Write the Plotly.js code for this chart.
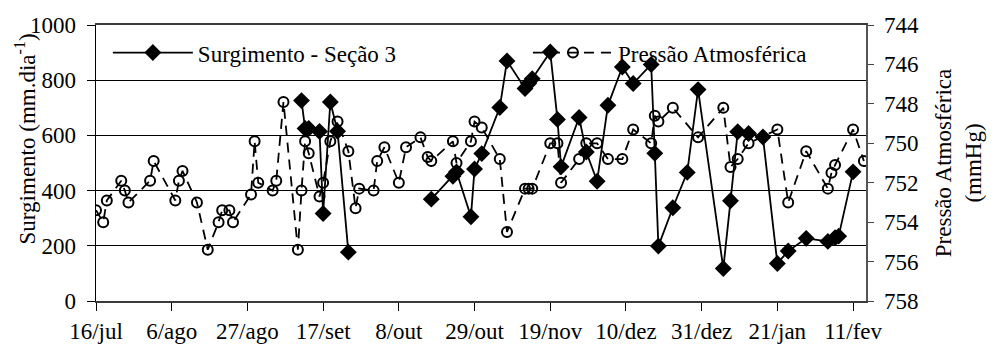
<!DOCTYPE html>
<html>
<head>
<meta charset="utf-8">
<script src="https://cdn.plot.ly/plotly-3.0.1.min.js"></script>
<style>
  html, body { margin: 0; padding: 0; background: #fff; }
  #grafico { width: 995px; height: 356px; }
</style>
</head>
<body>
<div id="grafico"></div>
<script>
// Pressão atmosférica (mmHg) nas datas de coleta
const datasPressao = [
  '2000-07-16','2000-07-18','2000-07-19','2000-07-23','2000-07-24','2000-07-25','2000-07-31','2000-08-01',
  '2000-08-07','2000-08-08','2000-08-09','2000-08-13','2000-08-16','2000-08-19','2000-08-20','2000-08-22',
  '2000-08-23','2000-08-28','2000-08-29','2000-08-30','2000-09-03','2000-09-04','2000-09-06','2000-09-10',
  '2000-09-11','2000-09-12','2000-09-13','2000-09-16','2000-09-17','2000-09-19','2000-09-21','2000-09-24',
  '2000-09-26','2000-09-27','2000-10-01','2000-10-02','2000-10-04','2000-10-08','2000-10-10','2000-10-14',
  '2000-10-16','2000-10-17','2000-10-23','2000-10-24','2000-10-28','2000-10-29','2000-10-31','2000-11-05',
  '2000-11-07','2000-11-12','2000-11-13','2000-11-14','2000-11-19','2000-11-21','2000-11-22','2000-11-27',
  '2000-11-29','2000-12-02','2000-12-05','2000-12-09','2000-12-12','2000-12-17','2000-12-18','2000-12-19',
  '2000-12-23','2000-12-30','2001-01-06','2001-01-08','2001-01-10','2001-01-13','2001-01-21','2001-01-24',
  '2001-01-29','2001-02-04','2001-02-05','2001-02-06','2001-02-11','2001-02-14'
];
const pressao = [
  753.4, 754.0, 752.9, 751.9, 752.4, 753.0, 751.9, 750.9,
  752.9, 751.9, 751.4, 753.0, 755.4, 754.0, 753.4, 753.4,
  754.0, 752.6, 749.9, 752.0, 752.4, 751.9, 747.9, 755.4,
  752.4, 749.9, 750.5, 752.7, 752.0, 749.9, 748.9, 750.4,
  753.3, 752.3, 752.4, 750.9, 750.2, 752.0, 750.2, 749.7,
  750.7, 750.9, 749.9, 751.0, 749.9, 748.9, 749.2, 750.8,
  754.5, 752.3, 752.3, 752.3, 750.0, 750.0, 752.0, 750.8,
  750.0, 750.0, 750.8, 750.8, 749.3, 750.0, 748.6, 748.9,
  748.2, 749.7, 748.2, 751.2, 750.8, 750.0, 749.3, 753.0,
  750.4, 752.3, 751.5, 751.1, 749.3, 750.9
];

// Surgimento na Seção 3 (mm.dia-1); null interrompe a linha entre campanhas
const datasSurgimento = [
  '2000-09-11','2000-09-12','2000-09-13','2000-09-16','2000-09-17','2000-09-19','2000-09-21','2000-09-24',
  '2000-10-08',
  '2000-10-17','2000-10-23','2000-10-24','2000-10-28','2000-10-29','2000-10-31','2000-11-05','2000-11-07',
  '2000-11-12','2000-11-13','2000-11-14','2000-11-19','2000-11-21','2000-11-22','2000-11-27','2000-11-29',
  '2000-12-02','2000-12-05','2000-12-09','2000-12-12','2000-12-17','2000-12-18','2000-12-19','2000-12-23',
  '2000-12-27','2000-12-30','2001-01-06','2001-01-08','2001-01-10','2001-01-13','2001-01-17','2001-01-21',
  '2001-01-24','2001-01-29','2001-02-04','2001-02-06','2001-02-07','2001-02-11'
];
const surgimento = [
  726, 625, 625, 614, 317, 721, 615, 177,
  null,
  369, 452, 468, 305, 478, 534, 701, 870,
  770, 788, 805, 902, 658, 486, 665, 540,
  434, 709, 848, 788, 857, 535, 199, 338,
  466, 766, 118, 363, 613, 607, 594, 136,
  181, 227, 216, 229, 235, 468
];

// Marcas do eixo das datas
const ticksDatas = ['2000-07-16','2000-08-06','2000-08-27','2000-09-17','2000-10-08','2000-10-29',
                    '2000-11-19','2000-12-10','2000-12-31','2001-01-21','2001-02-11'];
const ticksTexto = ['16/jul','6/ago','27/ago','17/set','8/out','29/out',
                    '19/nov','10/dez','31/dez','21/jan','11/fev'];
const ticksSurgimento = [0, 200, 400, 600, 800, 1000];
const ticksPressao = [744, 746, 748, 750, 752, 754, 756, 758];

const fonte = 'Liberation Serif, "Times New Roman", serif';
const tamanho = 23;
const faixaDatas = ['2000-07-16', '2001-02-14 14:00'];

const estiloLegenda = {
  orientation: 'h',
  xanchor: 'left', y: 0.9, yanchor: 'middle',
  bgcolor: 'rgba(0,0,0,0)',
  itemwidth: 80,
  font: { family: fonte, size: tamanho, color: '#000' }
};

const traces = [
  {
    name: 'Surgimento - Seção 3',
    legend: 'legend',
    x: datasSurgimento, y: surgimento,
    xaxis: 'x', yaxis: 'y',
    type: 'scatter', mode: 'lines+markers',
    connectgaps: false,
    line: { color: '#000', width: 1.8 },
    marker: { symbol: 'diamond', size: 13, color: '#000', line: { width: 0 } }
  },
  {
    name: 'Pressão Atmosférica',
    legend: 'legend2',
    x: datasPressao, y: pressao,
    xaxis: 'x', yaxis: 'y2',
    type: 'scatter', mode: 'lines+markers',
    line: { color: '#000', width: 1.8, dash: '10px,7px' },
    marker: { symbol: 'circle-open', size: 10, color: '#000', line: { width: 2, color: '#000' } }
  }
];

const layout = {
  width: 995, height: 356,
  margin: { l: 96, r: 129, t: 25, b: 55 },
  paper_bgcolor: '#fff', plot_bgcolor: '#fff',
  font: { family: fonte, size: tamanho, color: '#000' },
  showlegend: true,
  legend: Object.assign({}, estiloLegenda, { x: 0.0154 }),
  legend2: Object.assign({}, estiloLegenda, { x: 0.561 }),
  xaxis: {
    type: 'date', range: faixaDatas,
    tickmode: 'array', tickvals: ticksDatas, ticktext: ticksTexto,
    ticks: 'outside', ticklen: 8, tickwidth: 1, tickcolor: '#000',
    showgrid: false, zeroline: false,
    showline: true, linecolor: '#3a3a3a', linewidth: 2, mirror: true,
    tickfont: { family: fonte, size: tamanho, color: '#000' }
  },
  // cruza as marcas do eixo das datas para dentro da área do gráfico
  xaxis2: {
    type: 'date', range: faixaDatas, overlaying: 'x', anchor: 'y',
    tickmode: 'array', tickvals: ticksDatas,
    ticks: 'inside', ticklen: 8, tickwidth: 1, tickcolor: '#000',
    showticklabels: false, showgrid: false, zeroline: false, showline: false
  },
  yaxis: {
    range: [0, 1000], tickmode: 'array', tickvals: ticksSurgimento,
    ticks: 'outside', ticklen: 8, tickwidth: 1, tickcolor: '#000',
    ticklabelstandoff: 6,
    showgrid: true, gridcolor: '#000', gridwidth: 1,
    zeroline: false, showline: true, linecolor: '#000', linewidth: 1.5,
    tickfont: { family: fonte, size: tamanho, color: '#000' }
  },
  yaxis2: {
    overlaying: 'y', side: 'right', anchor: 'x',
    range: [758, 744], tickmode: 'array', tickvals: ticksPressao,
    ticks: 'outside', ticklen: 6, tickwidth: 1, tickcolor: '#444',
    ticklabelstandoff: 6,
    showgrid: false, zeroline: false,
    showline: true, linecolor: '#555', linewidth: 1.5,
    tickfont: { family: fonte, size: tamanho, color: '#000' },
    title: { text: 'Pressão Atmosférica<br>(mmHg)', font: { family: fonte, size: tamanho, color: '#000' }, standoff: 17 }
  },
  // parte interna das marcas do eixo da pressão
  yaxis3: {
    overlaying: 'y', side: 'right', anchor: 'x',
    range: [758, 744], tickmode: 'array', tickvals: ticksPressao,
    ticks: 'inside', ticklen: 6, tickwidth: 1, tickcolor: '#444',
    showticklabels: false, showgrid: false, zeroline: false, showline: false
  },
  // título do eixo do surgimento
  annotations: [{
    text: 'Surgimento (mm.dia<sup>-1</sup>)',
    xref: 'paper', yref: 'paper',
    x: -0.092, y: 0.586, xanchor: 'center', yanchor: 'middle',
    textangle: -90, showarrow: false,
    font: { family: fonte, size: tamanho, color: '#000' }
  }]
};

Plotly.newPlot('grafico', traces, layout, { staticPlot: true, displayModeBar: false });
</script>
</body>
</html>
